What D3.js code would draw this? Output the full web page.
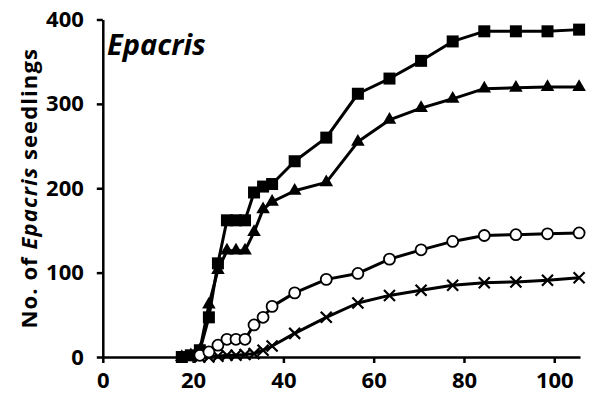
<!DOCTYPE html>
<html>
<head>
<meta charset="utf-8">
<script src="https://cdn.jsdelivr.net/npm/d3@7"></script>
<style>
  html, body { margin: 0; padding: 0; background: #fff; }
  svg { display: block; }
  text { font-family: "Open Sans", Lato, sans-serif; font-weight: bold; fill: #000; }
</style>
</head>
<body>
<svg id="chart" width="589" height="400"></svg>
<script>
// Days after sowing for each census
const days = [17.5, 19.5, 21.5, 23.5, 25.5, 27.5, 29.5, 31.5, 33.5, 35.5, 37.5,
              42.5, 49.5, 56.5, 63.5, 70.5, 77.5, 84.5, 91.5, 98.5, 105.5];

// Cumulative seedling counts per treatment
const squareSeries   = [0, 2, 8, 47, 111, 162, 162, 162, 195, 202, 205,
                        232, 260, 312, 330, 351, 374, 386, 386, 386, 388];
const triangleSeries = [0, 2, 8, 62, 103, 126, 126, 126, 148, 175, 184,
                        197, 207, 255, 281, 295, 306, 318, 319, 320, 320];
const circleSeries   = [null, null, 2, 6, 14, 21, 21, 21, 38, 47, 60,
                        76, 92, 99, 116, 127, 137, 144, 145, 146, 147];
const crossSeries    = [null, null, 0, 0, 1, 2, 2, 3, 4, 8, 13,
                        28, 47, 64, 73, 79, 85, 88, 89, 91, 94];

const xTicks = [0, 20, 40, 60, 80, 100];
const yTicks = [0, 100, 200, 300, 400];

const svg = d3.select("#chart");

const x = d3.scaleLinear().domain([0, 105.7]).range([102.8, 580]);
const y = d3.scaleLinear().domain([0, 400]).range([357, 19.5]);

// Axes
const xAxis = d3.axisBottom(x).tickValues(xTicks).tickSize(6).tickSizeOuter(0).tickPadding(9);
const yAxis = d3.axisLeft(y).tickValues(yTicks).tickSize(6).tickSizeOuter(0).tickPadding(13);

const gx = svg.append("g").attr("transform", `translate(0,${y(0)})`).call(xAxis);
const gy = svg.append("g").attr("transform", `translate(${x(0)},0)`).call(yAxis);

[gx, gy].forEach(g => {
  g.select(".domain").attr("stroke", "#000").attr("stroke-width", 2.5);
  g.selectAll(".tick line").attr("stroke", "#000").attr("stroke-width", 2.5);
  g.selectAll(".tick text")
    .attr("font-size", 22)
    .attr("font-family", "'Open Sans', sans-serif")
    .attr("font-weight", "bold")
    .attr("fill", "#000");
});

// Y axis title with italic genus name
const yTitle = svg.append("text")
  .attr("transform", `translate(37,${(y(0) + y(400)) / 2}) rotate(-90)`)
  .attr("text-anchor", "middle")
  .attr("font-size", 22)
  .attr("letter-spacing", 1.1);
yTitle.append("tspan").text("No. of ");
yTitle.append("tspan").attr("font-style", "italic").text("Epacris");
yTitle.append("tspan").text(" seedlings");

// Panel label
svg.append("text")
  .attr("x", 107).attr("y", 55)
  .attr("font-size", 29)
  .attr("font-style", "italic")
  .text("Epacris");

const line = d3.line()
  .x(d => x(d[0]))
  .y(d => y(d[1]));

function pts(vals) { return days.map((d, i) => [d, vals[i]]).filter(p => p[1] !== null); }

function drawLine(vals) {
  svg.append("path")
    .datum(pts(vals))
    .attr("fill", "none")
    .attr("stroke", "#000")
    .attr("stroke-width", 3)
    .attr("stroke-linejoin", "round")
    .attr("d", line);
}

// Filled squares
drawLine(squareSeries);
svg.append("g").selectAll("rect").data(pts(squareSeries)).join("rect")
  .attr("x", d => x(d[0]) - 6).attr("y", d => y(d[1]) - 6)
  .attr("width", 12).attr("height", 12).attr("fill", "#000");

// Filled triangles
drawLine(triangleSeries);
const tri = d3.symbol().type(d3.symbolTriangle).size(80);
svg.append("g").selectAll("path").data(pts(triangleSeries)).join("path")
  .attr("transform", d => `translate(${x(d[0])},${y(d[1])})`)
  .attr("d", tri).attr("fill", "#000");

// Crosses
drawLine(crossSeries);
svg.append("g").selectAll("path").data(pts(crossSeries)).join("path")
  .attr("transform", d => `translate(${x(d[0])},${y(d[1])})`)
  .attr("d", "M-5.5,-5.5L5.5,5.5M-5.5,5.5L5.5,-5.5")
  .attr("stroke", "#000").attr("stroke-width", 2.2).attr("fill", "none");

// Open circles
drawLine(circleSeries);
svg.append("g").selectAll("circle").data(pts(circleSeries)).join("circle")
  .attr("cx", d => x(d[0])).attr("cy", d => y(d[1]))
  .attr("r", 5.5).attr("fill", "#fff").attr("stroke", "#000").attr("stroke-width", 1.8);
</script>
</body>
</html>
